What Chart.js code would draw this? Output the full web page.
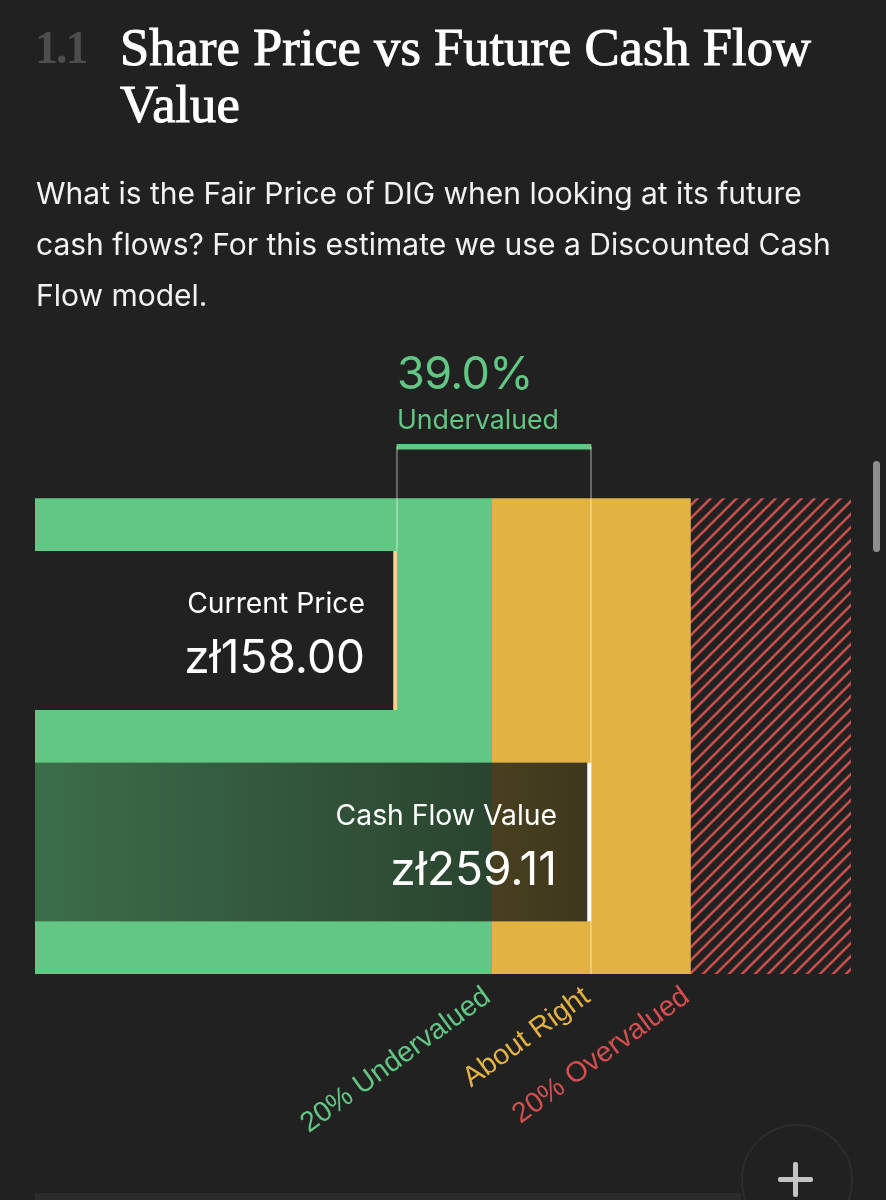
<!DOCTYPE html>
<html><head><meta charset="utf-8">
<style>
html,body{margin:0;padding:0;background:#212121;width:886px;height:1200px;overflow:hidden}
#c{position:absolute;left:0;top:0}
.t{position:absolute;white-space:nowrap}
.num{left:35px;top:20px;font:700 46px/56px "Liberation Serif",serif;color:#4d4d4d;letter-spacing:-2px}
.h{left:120px;font:400 52.6px/58px "Liberation Serif",serif;color:#fff;-webkit-text-stroke:1px #fff}
.p{left:36px;font:400 30px/51px Inter,sans-serif;color:#f2f2f2}
.sb{position:absolute;left:873px;top:461px;width:7px;height:91px;border-radius:4px;background:#8e8e8e}
.fab{position:absolute;left:741px;top:1124px;width:108px;height:108px;border-radius:50%;border:2px solid #2c2c2c;background:#212121}
.pl{position:absolute;background:#c4c4c4;border-radius:2px}
.bottom{position:absolute;left:35px;top:1193px;width:706px;height:7px;background:#2b2b2b}
</style></head><body>
<canvas id="c" width="886" height="1200"></canvas>
<div class="bottom"></div>
<div class="t num">1.1</div>
<div class="t h" style="top:18px">Share Price vs Future Cash Flow</div>
<div class="t h" style="top:75px">Value</div>
<div class="t p" style="top:168px">What is the Fair Price of DIG when looking at its future</div>
<div class="t p" style="top:219px">cash flows? For this estimate we use a Discounted Cash</div>
<div class="t p" style="top:270px">Flow model.</div>
<div class="sb"></div>
<div class="fab"></div>
<div class="pl" style="left:778px;top:1177px;width:35px;height:5px"></div>
<div class="pl" style="left:793px;top:1162px;width:5px;height:35px"></div>
<script src="https://cdn.jsdelivr.net/npm/chart.js@4"></script>
<script>
const currentPrice = 158.00;
const cashFlowValue = 259.11;
const undervaluedPct = "39.0%";
const undervaluedLabel = "Undervalued";
const undervaluedEdge = 207.29;
const overvaluedEdge = 310.93;
const axisMin = -30.6;
const axisMax = 394.6;
const barLabels = ["Current Price", "Cash Flow Value"];
const barValueLabels = ["zł158.00", "zł259.11"];
const tickValues = [207.29, 259.11, 310.93];
const tickLabels = ["20% Undervalued", "About Right", "20% Overvalued"];
const tickColors = ["#62c784", "#e3b341", "#d64f4f"];

const GREEN = "#62c784", YELLOW = "#e3b341", RED = "#c9504e", BG = "#212121";

function hatch() {
  const s = 13, c = document.createElement("canvas");
  c.width = s; c.height = s;
  const g = c.getContext("2d");
  g.strokeStyle = RED; g.lineWidth = 2.6; g.lineCap = "square";
  [[-s, s, s, -s], [0, s, s, 0], [0, 2 * s, 2 * s, 0]].forEach(l => {
    g.beginPath(); g.moveTo(l[0], l[1]); g.lineTo(l[2], l[3]); g.stroke();
  });
  return g.createPattern(c, "repeat");
}
function cashGradient(ctx) {
  const a = ctx.chart.chartArea;
  if (!a) return "rgba(25,28,21,.7)";
  const g = ctx.chart.ctx.createLinearGradient(a.left, 0, ctx.chart.scales.x.getPixelForValue(cashFlowValue), 0);
  g.addColorStop(0, "rgba(25,28,21,.52)");
  g.addColorStop(1, "rgba(25,28,21,.82)");
  return g;
}
const zone = (from, to, color) => ({
  data: [{ x: [from, to], y: 0.5 }], backgroundColor: color,
  barThickness: 475, grouped: false, order: 10, borderWidth: 0
});
const labelsPlugin = {
  id: "labels",
  afterDatasetsDraw(chart) {
    const { ctx, scales: { x, y } } = chart;
    ctx.save();
    ctx.fillStyle = "#fff"; ctx.textAlign = "right"; ctx.textBaseline = "alphabetic";
    const vals = [currentPrice, cashFlowValue];
    const inset = [32, 34];
    vals.forEach((v, i) => {
      const px = x.getPixelForValue(v) - inset[i], py = y.getPixelForValue(i);
      ctx.font = "400 28.3px Inter, sans-serif";
      ctx.fillText(barLabels[i], px, py - 17);
      ctx.font = "400 46px Inter, sans-serif";
      ctx.fillText(barValueLabels[i], px, py + 43);
    });
    ctx.textAlign = "left"; ctx.fillStyle = GREEN;
    const lx = x.getPixelForValue(currentPrice), ty = y.getPixelForValue(bracketRow);
    ctx.font = "400 45px Inter, sans-serif";
    ctx.letterSpacing = "-0.6px";
    ctx.fillText(undervaluedPct, lx, ty - 58);
    ctx.letterSpacing = "0px";
    ctx.font = "400 26.7px Inter, sans-serif";
    ctx.fillText(undervaluedLabel, lx, ty - 18);
    ctx.restore();
  }
};
const bracketRow = -0.868, currentBarTop = -0.376, guideBottom = 1.624;

new Chart(document.getElementById("c"), {
  type: "bar",
  data: {
    datasets: [
      { type: "line", data: [{ x: currentPrice, y: bracketRow }, { x: currentPrice, y: currentBarTop }],
        borderColor: "rgba(255,255,255,.32)", borderWidth: 2, pointRadius: 0, order: 0 },
      { type: "line", data: [{ x: cashFlowValue, y: bracketRow }, { x: cashFlowValue, y: guideBottom }],
        borderColor: "rgba(255,255,255,.32)", borderWidth: 2, pointRadius: 0, order: 0 },
      { data: [{ x: [currentPrice, cashFlowValue], y: bracketRow }], backgroundColor: GREEN,
        barThickness: 5, grouped: false, order: 1, borderWidth: 0 },
      { data: [{ x: [axisMin, currentPrice], y: 0 }], backgroundColor: BG,
        borderColor: "#fbd38d", borderWidth: { right: 4, left: 0, top: 0, bottom: 0 }, borderSkipped: false,
        barThickness: 159, grouped: false, order: 2 },
      { data: [{ x: [axisMin, cashFlowValue], y: 1 }], backgroundColor: cashGradient,
        borderColor: "#ffffff", borderWidth: { right: 4, left: 0, top: 0, bottom: 0 }, borderSkipped: false,
        barThickness: 159, grouped: false, order: 2 },
      zone(axisMin, undervaluedEdge, GREEN),
      zone(undervaluedEdge, overvaluedEdge, YELLOW),
      zone(overvaluedEdge, axisMax, hatch())
    ]
  },
  options: {
    indexAxis: "y", responsive: false, animation: false, devicePixelRatio: 1,
    parsing: { xAxisKey: "x", yAxisKey: "y" },
    layout: { autoPadding: false, padding: { left: 35, right: 35, top: 440, bottom: 0 } },
    plugins: { legend: { display: false }, tooltip: { enabled: false } },
    scales: {
      x: {
        type: "linear", min: axisMin, max: axisMax,
        grid: { display: false, drawTicks: false }, border: { display: false },
        afterBuildTicks(a) { a.ticks = tickValues.map(value => ({ value })); },
        afterFit(a) { a.height = 226; },
        ticks: {
          autoSkip: false, minRotation: 36, maxRotation: 36, padding: 6, labelOffset: -4,
          font: { family: "'Liberation Sans', Arial, sans-serif", size: 28.5 },
          color: c => tickColors[c.index],
          callback: (v, i) => tickLabels[i]
        }
      },
      y: { type: "linear", reverse: true, offset: false, min: -0.90, max: 1.624, display: false }
    }
  },
  plugins: [labelsPlugin]
});
</script>
</body></html>
